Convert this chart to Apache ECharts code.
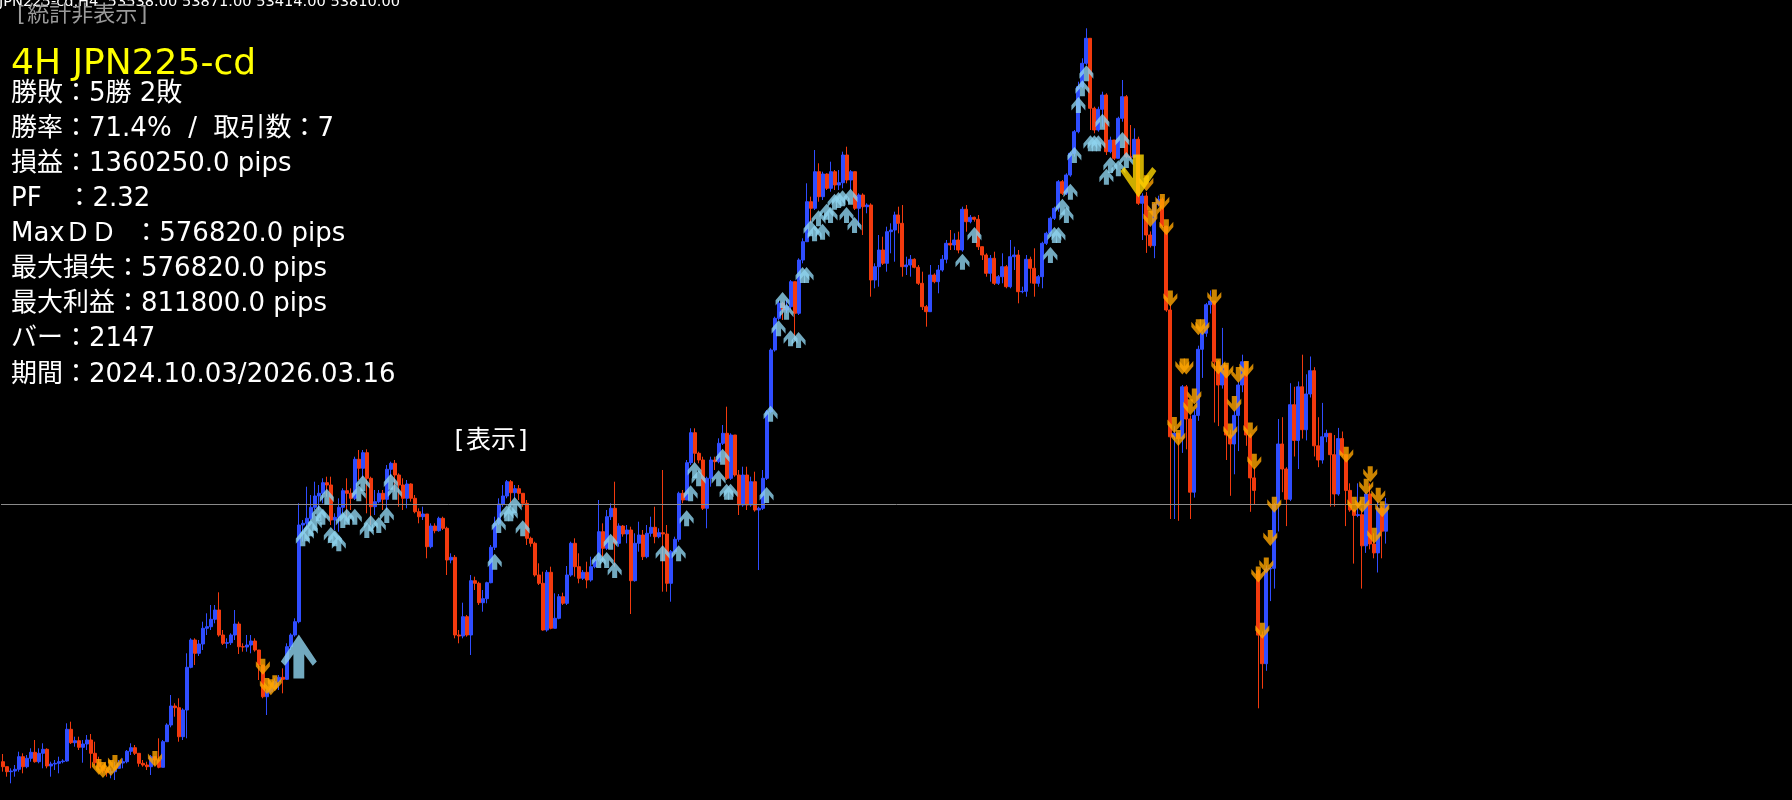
<!DOCTYPE html>
<html><head><meta charset="utf-8">
<script src="https://cdn.jsdelivr.net/npm/echarts@6/dist/echarts.min.js"></script>
<style>html,body{margin:0;padding:0;background:#000;overflow:hidden}#c{width:1792px;height:800px}</style>
</head><body><div id="c"></div>
<script>
// ---- data (4H JPN225-cd), open = previous close unless listed in gapOpens ----
const closes = [
51183,51133,51140,51157,51283,51183,51267,51327,51233,51317,
51357,51190,51210,51217,51233,51240,51557,51423,51443,51377,
51410,51450,51317,51223,51183,51143,51123,51133,51167,51220,
51233,51337,51373,51317,51217,51200,51183,51283,51250,51177,
51433,51600,51790,51773,51483,51750,52177,52450,52317,52410,
52567,52583,52657,52750,52500,52417,52423,52500,52610,52383,
52380,52400,52440,52350,52200,51883,51933,51967,52033,52077,
52057,52383,52500,52633,53600,53617,53667,53777,53890,53917,
54023,54000,53650,53677,53777,53943,53917,53867,54257,54167,
54323,54067,53783,53833,53917,53857,54157,54217,54100,54000,
53867,54010,53867,53733,53683,53710,53383,53590,53543,53667,
53567,53250,53277,52500,52490,52683,52500,53043,53017,52823,
52863,53023,53377,53617,53810,53890,54033,53923,53963,53917,
53817,53467,53417,53100,53017,52550,53127,52567,52667,52883,
52817,53100,53417,53183,53067,53127,53050,53183,53250,53533,
53367,53683,53767,53417,53590,53510,53550,53043,53417,53500,
53283,53517,53577,53483,53523,53510,53017,53333,53457,53917,
53850,54223,54523,54317,54250,53767,54067,54250,54233,54417,
54517,54067,54500,54100,53800,54100,53800,54033,53750,53767,
54067,54733,55350,55667,55817,55750,55783,56033,55717,56250,
56433,56833,56767,57133,56883,57110,56967,57133,57000,57023,
57300,57050,57133,56767,56900,56783,56800,56050,56183,56350,
56217,56533,56550,56700,56617,56183,56200,56257,56177,56017,
55783,55733,56100,56033,56150,56257,56417,56400,56450,56350,
56757,56633,56677,56657,56383,56300,56117,56267,56017,56083,
56183,55983,56283,56300,55933,55937,56257,56167,56017,56083,
56417,56517,56667,56767,57033,56917,57100,57317,57533,57983,
58217,58467,57767,57550,57757,57900,57333,57450,57267,57667,
57883,57283,57277,57457,56817,56890,56500,56393,56804,56857,
56589,55750,54482,54517,54464,54982,54660,53928,54696,55357,
55518,55803,55839,55232,55000,55196,54500,54410,54696,55000,
55232,54500,54071,53946,52499,52213,53160,53167,53803,54410,
54160,53857,54803,54446,54982,54553,54910,55143,54392,54250,
54482,54517,54303,53910,54464,54303,53946,53750,53696,53703,
53392,53910,53410,53321,53767,53538,53810];
const highs = [
51310,51183,51167,51200,51333,51317,51300,51367,51450,51367,
51417,51367,51233,51250,51283,51257,51617,51633,51483,51483,
51450,51500,51510,51433,51283,51200,51167,51167,51233,51250,
51267,51350,51417,51400,51290,51250,51233,51300,51283,51467,
51450,51617,51900,51817,51867,51767,52317,52467,52467,52450,
52633,52717,52800,52800,52927,52550,52467,52517,52750,52633,
52417,52500,52500,52467,52317,52133,51950,52017,52067,52100,
52167,52417,52517,52667,53817,53650,53983,53900,54033,54000,
54067,54083,54083,53717,53867,53967,54067,53967,54283,54350,
54350,54357,54083,53950,53950,53950,54200,54233,54250,54117,
54067,54050,54017,53900,53767,53783,53667,53617,53617,53683,
53683,53583,53317,53300,52550,52823,52700,53100,53083,53033,
52950,53033,53400,53683,53867,54000,54050,54050,54000,54000,
53867,53850,53483,53433,53217,53133,53150,53183,52917,52910,
52923,53190,53433,53467,53317,53150,53233,53283,53283,53850,
53617,53750,53817,54033,53617,53600,53600,53583,53517,53633,
53550,53600,53683,53783,53567,54150,53600,53350,53483,53933,
53950,54250,54567,54567,54333,54283,54083,54283,54283,54467,
54600,54783,54517,54500,54150,54183,54183,54083,54133,53783,
54150,54750,55367,55683,55850,55833,55850,56050,55917,56267,
56467,57017,56883,57350,57217,57133,57117,57233,57150,57150,
57333,57383,57150,57133,56917,56917,56817,56817,56217,56500,
56483,56583,56617,56733,56783,56800,56283,56300,56267,56200,
56133,55800,56200,56117,56200,56300,56450,56550,56517,56533,
56783,56800,56700,56683,56700,56383,56317,56300,56333,56100,
56317,56200,56450,56383,56350,55983,56300,56283,56367,56100,
56433,56533,56683,56783,57050,57050,57117,57333,57550,58033,
58267,58567,58417,57783,57783,57933,57917,57483,57400,57683,
58050,57900,57600,57567,57483,56917,56929,56536,56821,56893,
56875,56536,55803,54589,54500,55000,55000,54696,54750,55393,
55535,55821,55946,55839,55250,55571,55178,54553,54750,55035,
55303,55125,54517,54178,53160,52535,53196,53178,53821,54660,
54678,54178,55018,54982,55035,55303,55107,55285,55178,54678,
54821,54553,54410,54500,54571,54535,54303,54017,53732,54017,
53767,53928,54017,53517,53839,53785,53871];
const lows = [
51133,51083,51017,51083,51133,51117,51167,51233,51223,51217,
51167,51167,51083,51150,51117,51217,51233,51410,51383,51350,
51223,51350,51167,51200,51150,51117,51083,51067,51050,51183,
51167,51217,51300,51300,51183,51183,51150,51100,51200,51167,
51210,51433,51577,51683,51433,51450,51467,52167,52200,52290,
52350,52500,52550,52617,52483,52400,52367,52400,52450,52310,
52333,52333,52317,52333,52050,51867,51700,51917,51967,51950,
51917,52050,52350,52483,52617,53433,53550,53650,53750,53750,
53817,53883,53600,53550,53533,53717,53650,53750,53850,54050,
54067,53717,53600,53700,53817,53750,53750,54083,53933,53783,
53750,53767,53833,53717,53617,53650,53267,53367,53517,53533,
53550,53100,53217,52467,52417,52467,52483,52300,52950,52800,
52733,52817,53017,53350,53600,53783,53867,53817,53867,53850,
53783,53400,53383,53083,53000,52543,52533,52557,52650,52657,
52800,52800,53083,53083,53017,53050,52967,53033,53167,53233,
53233,53350,53650,53183,53383,53483,53417,52710,53033,53333,
53250,53267,53483,53417,53467,52933,52933,52833,53317,53433,
53817,53850,54200,54217,54217,53750,53567,53983,54150,54217,
54400,54050,54050,54083,53700,53783,53750,53783,53733,53150,
53750,54050,54717,55333,55650,55650,55717,55750,55450,55700,
56217,56433,56617,56750,56833,56850,56950,56933,56950,56950,
56967,57017,56950,56750,56583,56500,56717,55883,55967,55983,
56200,56133,56317,56233,56517,56083,56100,56083,56167,56000,
55750,55583,55733,56017,55917,56133,56217,56350,56350,56317,
56333,56533,56617,56633,56350,56250,56083,56033,56000,56000,
56017,55967,55967,56150,55817,55917,55883,56017,55883,55983,
55967,56400,56483,56650,56733,56900,56900,57083,57283,57517,
57967,58200,57550,57517,57533,57583,57300,57317,57250,57283,
57633,57267,57250,57400,56800,56450,56321,56375,56268,56786,
56571,55732,53660,53660,53642,54321,54357,53660,53874,54642,
55071,55482,55714,54625,54589,54964,54250,53892,54107,54339,
54928,54392,53732,53803,51767,51963,52142,52839,52964,53535,
53928,53589,53839,54285,54160,54464,54446,54875,54285,54178,
54214,54428,53785,53785,53892,54285,53589,53732,53214,53678,
52964,53321,53357,53267,53125,53267,53414];
const gapOpens = [[0, 51233], [314, 53142]];
const lastPrice = 53810;

// signal arrows: [bar index, price]
const upArrows = [
[75,53467],[76,53517],[77,53567],[78,53623],[79,53717],[80,53683],[81,53883],[82,53500],[83,53467],[84,53417],
[85,53650],[86,53683],[88,53683],[89,53917],[90,54017],[91,53550],[92,53617],[94,53600],[96,53700],[97,54033],
[98,53933],[123,53233],[124,53600],[126,53717],[127,53717],[128,53800],[130,53567],[149,53250],[151,53250],[152,53433],
[153,53150],[165,53317],[169,53317],[171,53667],[172,53917],[173,54150],[174,54067],[179,54067],[180,54283],[181,53933],
[182,53933],[191,53900],[192,54713],[194,55567],[195,55850],[196,55733],[197,55467],[199,55450],[200,56100],[201,56100],
[202,56567],[203,56517],[204,56667],[205,56533],[206,56733],[207,56700],[208,56833],[209,56850],[210,56867],[211,56700],
[212,56883],[213,56600],[240,56233],[243,56500],[262,56300],[263,56500],[264,56500],[265,56783],[266,56700],[267,56933],
[268,57300],[269,57800],[270,57967],[271,58117],[272,57417],[273,57417],[274,57417],[275,57633],[276,57083],[277,57200],
[279,57167],[280,57450],[281,57250]];
const downArrows = [
[24,51180],[25,51150],[27,51170],[28,51220],[38,51260],[65,52183],[66,51990],[67,51977],[68,52017],
[286,57018],[287,56661],[288,56750],[290,56829],[291,56578],[292,55864],[293,54600],[294,54471],[295,55185],[296,55185],
[297,54778],[298,54885],[299,55578],[300,55578],[303,55875],[304,55185],[306,55143],[307,54535],[308,54810],[309,55100],
[311,55160],[312,54546],[313,54232],[314,53106],[315,52542],[316,53196],[317,53471],[318,53803],[336,54303],[338,53803],
[340,53803],[341,53982],[342,54107],[343,53492],[344,53892],[345,53757]];
const bigUp = [[74, 52285]];
const bigDown = [[284, 57090]];

const headerText = 'JPN225-cd,H4  53538.00 53871.00 53414.00 53810.00';
const statLines = [
'勝敗：5勝 2敗',
'勝率：71.4%  /  取引数：7',
'損益：1360250.0 pips',
'PF   ：2.32',
'MaxＤＤ  ：576820.0 pips',
'最大損失：576820.0 pips',
'最大利益：811800.0 pips',
'バー：2147',
'期間：2024.10.03/2026.03.16'];

// ---- build ----
const opens = closes.map((c, i) => i === 0 ? c : closes[i - 1]);
gapOpens.forEach(([i, o]) => { opens[i] = o; });
const ohlc = closes.map((c, i) => {
  const o = opens[i];
  return [o, c, Math.min(lows[i], o, c), Math.max(highs[i], o, c)];
});
const TOTAL_SLOTS = 448;
const cats = Array.from({length: TOTAL_SLOTS}, (_, i) => String(i));

const UP_S = 'path://M50,0 L100,52 L100,84 L68,52 L68,100 L32,100 L32,52 L0,84 L0,52 Z';
const DOWN_S = 'path://M50,100 L100,48 L100,16 L68,48 L68,0 L32,0 L32,48 L0,16 L0,48 Z';
const UP_B = 'path://M53,0 L106,80 L94,92 L69,58 L69,130 L37,130 L37,58 L12,92 L0,80 Z';
const DOWN_B = 'path://M53,130 L106,50 L94,38 L69,72 L69,0 L37,0 L37,72 L12,38 L0,50 Z';

const FONT = '"DejaVu Sans", "Noto Sans CJK JP"';
const graphic = [
  {type:'text', x:-1, y:2, z:100, style:{text:headerText, font:'14.6px ' + FONT, fill:'#ffffff', textVerticalAlign:'middle'}},
  {type:'text', x:14, y:15, z:100, style:{text:'[統計非表示]', font:'22px "DejaVu Sans Mono", "Noto Sans CJK JP"', fill:'#9a9a9a', textVerticalAlign:'middle'}},
  {type:'text', x:11, y:65, z:100, style:{text:'4H JPN225-cd', font:'36px ' + FONT, fill:'#ffff00', textVerticalAlign:'middle'}},
  {type:'text', x:451, y:441, z:100, style:{text:'[表示]', font:'25px "DejaVu Sans Mono", "Noto Sans CJK JP"', fill:'#ffffff', textVerticalAlign:'middle'}}
];
statLines.forEach((t, k) => {
  graphic.push({type:'text', x:11, y:94 + k * 35.1, z:100, style:{text:t, font:'26px ' + FONT, fill:'#ffffff', textVerticalAlign:'middle'}});
});

const chart = echarts.init(document.getElementById('c'), null, {renderer:'canvas'});
chart.setOption({
  backgroundColor:'#000000',
  animation:false,
  grid:{left:1, top:0, width:1792, height:800, containLabel:false},
  xAxis:{type:'category', data:cats, show:false, boundaryGap:true},
  yAxis:{type:'value', min:50850, max:58850, show:false},
  series:[
    {type:'candlestick', data:ohlc, barWidth:3.5, z:2,
     itemStyle:{color:'#2f4dff', color0:'#f23a0e', borderColor:'#2f4dff', borderColor0:'#f23a0e', borderWidth:1},
     markLine:{silent:true, symbol:['none','none'], label:{show:false}, animation:false,
       lineStyle:{color:'#8a8a8a', width:1, type:'solid'}, data:[{yAxis:lastPrice}]}},
    {type:'scatter', data:upArrows, symbol:UP_S, symbolSize:[14,16], z:5, silent:true,
     itemStyle:{color:'#8fd3ef'}},
    {type:'scatter', data:downArrows, symbol:DOWN_S, symbolSize:[14,16], z:5, silent:true,
     itemStyle:{color:'#ffa500'}},
    {type:'scatter', data:bigUp, symbol:UP_B, symbolSize:[36,44], z:6, silent:true,
     itemStyle:{color:'#8fd3ef'}},
    {type:'scatter', data:bigDown, symbol:DOWN_B, symbolSize:[36,43], z:6, silent:true,
     itemStyle:{color:'#ffd700'}}
  ],
  graphic:graphic
});
</script>
</body></html>
